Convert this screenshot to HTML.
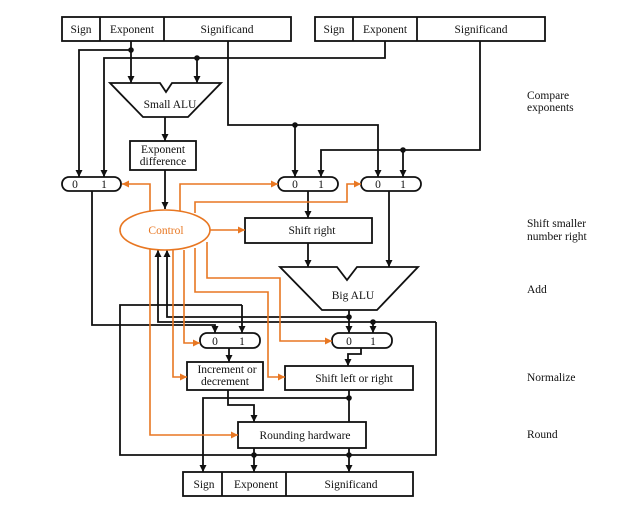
<!DOCTYPE html>
<html><head><style>body{margin:0;background:#fff}svg{display:block}text{font-family:"Liberation Serif",serif;font-size:11.5px;fill:#111}</style></head><body>
<svg width="633" height="511" viewBox="0 0 633 511" xmlns="http://www.w3.org/2000/svg">
<defs>
<marker id="a" markerWidth="8" markerHeight="8" refX="7" refY="4" orient="auto" markerUnits="userSpaceOnUse"><path d="M0,0.5 L7,4 L0,7.5z" fill="#111"/></marker>
<marker id="o" markerWidth="8" markerHeight="8" refX="7" refY="4" orient="auto" markerUnits="userSpaceOnUse"><path d="M0,0.5 L7,4 L0,7.5z" fill="#e87722"/></marker>
</defs>
<g fill="none" stroke="#111" stroke-width="1.8">
<rect x="62" y="17" width="229" height="24"/><line x1="100" y1="17" x2="100" y2="41"/><line x1="164" y1="17" x2="164" y2="41"/>
<rect x="315" y="17" width="230" height="24"/><line x1="353" y1="17" x2="353" y2="41"/><line x1="417" y1="17" x2="417" y2="41"/>
<path d="M110,83 L160,83 L166,92 L172,83 L221,83 L188,117 L143,117 Z"/>
<rect x="130" y="141" width="66" height="29"/>
<rect x="62" y="177" width="59" height="14" rx="7"/>
<rect x="278" y="177" width="60" height="14" rx="7"/>
<rect x="361" y="177" width="60" height="14" rx="7"/>
<rect x="245" y="218" width="127" height="25"/>
<path d="M280,267 L337,267 L347,280 L357,267 L418,267 L377,310 L322,310 Z"/>
<rect x="200" y="333" width="60" height="15" rx="7"/>
<rect x="332" y="333" width="60" height="15" rx="7"/>
<rect x="187" y="362" width="76" height="28"/>
<rect x="285" y="366" width="128" height="24"/>
<rect x="238" y="422" width="128" height="26"/>
<rect x="183" y="472" width="230" height="24"/><line x1="222" y1="472" x2="222" y2="496"/><line x1="286" y1="472" x2="286" y2="496"/>
<path d="M131,41 V83" marker-end="url(#a)"/><path d="M131,50 H79 V177" marker-end="url(#a)"/>
<path d="M385,41 V58 H104 V177" marker-end="url(#a)"/><path d="M197,58 V83" marker-end="url(#a)"/>
<path d="M165,117 V141" marker-end="url(#a)"/><path d="M165,170 V209" marker-end="url(#a)"/>
<path d="M228,41 V125 H378 V177" marker-end="url(#a)"/><path d="M295,125 V177" marker-end="url(#a)"/>
<path d="M480,41 V150 H321 V177" marker-end="url(#a)"/><path d="M403,150 V177" marker-end="url(#a)"/>
<path d="M308,191 V218" marker-end="url(#a)"/><path d="M308,243 V267" marker-end="url(#a)"/>
<path d="M389,191 V267" marker-end="url(#a)"/>
<path d="M92,191 V325 H215 V333" marker-end="url(#a)"/>
<path d="M349,310 V333" marker-end="url(#a)"/>
<path d="M349,317 H167 V250" marker-end="url(#a)"/>
<path d="M436,322 H158 V250" marker-end="url(#a)"/>
<path d="M373,322 V333" marker-end="url(#a)"/>
<path d="M242,305 H120 V455 H436 V322"/>
<path d="M242,305 V333" marker-end="url(#a)"/>
<path d="M229,348 V362" marker-end="url(#a)"/>
<path d="M361,348 V354 H348 V366" marker-end="url(#a)"/>
<path d="M228,390 V405 H254 V422" marker-end="url(#a)"/>
<path d="M349,390 V422"/><path d="M349,398 H203 V472" marker-end="url(#a)"/>
<path d="M254,448 V472" marker-end="url(#a)"/><path d="M349,448 V472" marker-end="url(#a)"/>
</g>
<g fill="#111">
<circle cx="131" cy="50" r="2.8"/><circle cx="197" cy="58" r="2.8"/><circle cx="295" cy="125" r="2.8"/><circle cx="403" cy="150" r="2.8"/>
<circle cx="349" cy="317" r="2.8"/><circle cx="373" cy="322" r="2.8"/><circle cx="349" cy="398" r="2.8"/><circle cx="254" cy="455" r="2.8"/><circle cx="349" cy="455" r="2.8"/>
</g>
<g fill="none" stroke="#e87722" stroke-width="1.6">
<ellipse cx="165" cy="230" rx="45" ry="20" fill="#fff"/>
<path d="M150,211 V184 H122" marker-end="url(#o)"/>
<path d="M180,211 V184 H278" marker-end="url(#o)"/>
<path d="M195,213 V202 H347 V184 H361" marker-end="url(#o)"/>
<path d="M210,230 H245" marker-end="url(#o)"/>
<path d="M150,249 V435 H238" marker-end="url(#o)"/>
<path d="M173,250 V377 H187" marker-end="url(#o)"/>
<path d="M184,250 V343 H200" marker-end="url(#o)"/>
<path d="M195,248 V292 H268 V377 H285" marker-end="url(#o)"/>
<path d="M207,242 V278 H280 V341 H332" marker-end="url(#o)"/>
</g>
<g text-anchor="middle">
<text x="81" y="33">Sign</text><text x="132" y="33">Exponent</text><text x="227" y="33">Significand</text>
<text x="334" y="33">Sign</text><text x="385" y="33">Exponent</text><text x="481" y="33">Significand</text>
<text x="170" y="108">Small ALU</text>
<text x="163" y="153">Exponent</text><text x="163" y="165">difference</text>
<text x="75" y="188">0</text><text x="104" y="188">1</text>
<text x="295" y="188">0</text><text x="321" y="188">1</text>
<text x="378" y="188">0</text><text x="403" y="188">1</text>
<text x="166" y="234" style="fill:#e87722">Control</text>
<text x="312" y="234">Shift right</text>
<text x="353" y="299">Big ALU</text>
<text x="215" y="345">0</text><text x="242" y="345">1</text>
<text x="349" y="345">0</text><text x="373" y="345">1</text>
<text x="227" y="373">Increment or</text><text x="225" y="385">decrement</text>
<text x="354" y="382">Shift left or right</text>
<text x="305" y="439">Rounding hardware</text>
<text x="204" y="488">Sign</text><text x="256" y="488">Exponent</text><text x="351" y="488">Significand</text>
</g>
<g>
<text x="527" y="99">Compare</text><text x="527" y="111">exponents</text>
<text x="527" y="227">Shift smaller</text><text x="527" y="240">number right</text>
<text x="527" y="293">Add</text>
<text x="527" y="381">Normalize</text>
<text x="527" y="438">Round</text>
</g>
</svg>
</body></html>
